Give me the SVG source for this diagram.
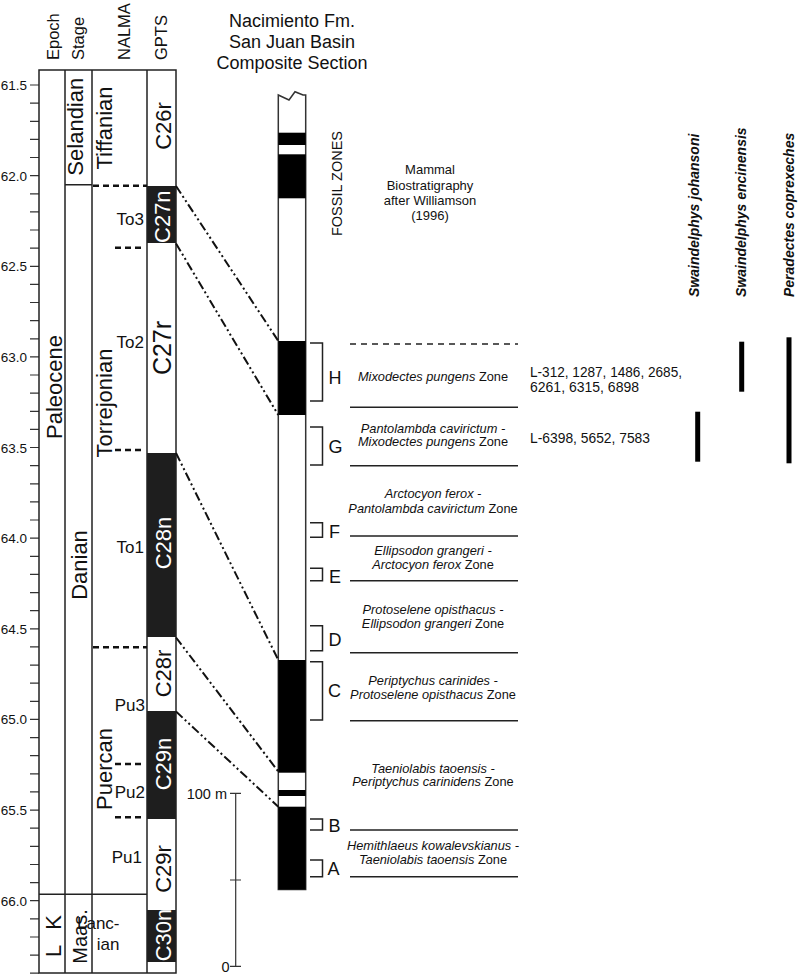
<svg xmlns="http://www.w3.org/2000/svg" width="800" height="976" viewBox="0 0 800 976">
<style>
text{font-family:"Liberation Sans",Arial,sans-serif;fill:#111}
.ax{font-size:13.5px;text-anchor:end}
.hd{font-size:16.5px}
.big{font-size:22px;text-anchor:middle}
.mid{text-anchor:middle}
.sub{font-size:17px;text-anchor:end}
.chron{font-size:22px;text-anchor:middle}
.wt{fill:#fff}
.zl{font-size:18px}
.zt{font-size:12.8px;text-anchor:middle}
.it{font-style:italic}
.loc{font-size:14.5px}
.sp{font-size:14px;font-weight:bold;font-style:italic}
.frame{fill:none;stroke:#222;stroke-width:1.5}
.thin{fill:none;stroke:#333;stroke-width:1.2}
.dash{fill:none;stroke:#111;stroke-width:2.5;stroke-dasharray:6 4}
.corr{fill:none;stroke:#111;stroke-width:2;stroke-dasharray:9 3 2 3 2 3}
.zline{fill:none;stroke:#222;stroke-width:1.5}
.br{fill:none;stroke:#222;stroke-width:1.5}
</style>
<rect width="800" height="976" fill="#fff"/>

<g id="axis">
<path class="thin" d="M30 85h9M30 103.1h9M30 121.3h9M30 139.4h9M30 157.5h9M30 175.6h9M30 193.8h9M30 211.9h9M30 230h9M30 248.1h9M30 266.3h9M30 284.4h9M30 302.5h9M30 320.7h9M30 338.8h9M30 356.9h9M30 375h9M30 393.2h9M30 411.3h9M30 429.4h9M30 447.5h9M30 465.7h9M30 483.8h9M30 501.9h9M30 520h9M30 538.2h9M30 556.3h9M30 574.4h9M30 592.6h9M30 610.7h9M30 628.8h9M30 646.9h9M30 665.1h9M30 683.2h9M30 701.3h9M30 719.4h9M30 737.6h9M30 755.7h9M30 773.8h9M30 791.9h9M30 810.1h9M30 828.2h9M30 846.3h9M30 864.5h9M30 882.6h9M30 900.7h9M30 918.8h9M30 937h9M30 955.1h9M30 973.2h9"/>
<text class="ax" x="27" y="90">61.5</text>
<text class="ax" x="27" y="180.6">62.0</text>
<text class="ax" x="27" y="271.3">62.5</text>
<text class="ax" x="27" y="361.9">63.0</text>
<text class="ax" x="27" y="452.5">63.5</text>
<text class="ax" x="27" y="543.2">64.0</text>
<text class="ax" x="27" y="633.8">64.5</text>
<text class="ax" x="27" y="724.4">65.0</text>
<text class="ax" x="27" y="815.1">65.5</text>
<text class="ax" x="27" y="905.7">66.0</text>
</g>

<g id="headers">
<text class="hd" x="58.5" y="60" transform="rotate(-90 58.5 60)">Epoch</text>
<text class="hd" x="84" y="60" transform="rotate(-90 84 60)">Stage</text>
<text class="hd" x="130" y="60" transform="rotate(-90 130 60)">NALMA</text>
<text class="hd" x="166.5" y="60" transform="rotate(-90 166.5 60)">GPTS</text>
</g>

<g id="gpts">
<rect x="147" y="186" width="29" height="57" fill="#1e1e1e"/>
<rect x="147" y="453" width="29" height="184" fill="#1e1e1e"/>
<rect x="147" y="711" width="29" height="108" fill="#1e1e1e"/>
<rect x="147" y="910" width="29" height="52" fill="#1e1e1e"/>
<text class="chron" x="170.5" y="126" transform="rotate(-90 170.5 126)">C26r</text>
<text class="chron wt" x="170.5" y="216.7" transform="rotate(-90 170.5 216.7)">C27n</text>
<text class="chron" x="171" y="348" transform="rotate(-90 171 348)" style="font-size:25px">C27r</text>
<text class="chron wt" x="170.5" y="543" transform="rotate(-90 170.5 543)">C28n</text>
<text class="chron" x="170.5" y="673.5" transform="rotate(-90 170.5 673.5)">C28r</text>
<text class="chron wt" x="170.5" y="764" transform="rotate(-90 170.5 764)">C29n</text>
<text class="chron" x="170.5" y="869" transform="rotate(-90 170.5 869)">C29r</text>
<text class="chron wt" x="170.5" y="935" transform="rotate(-90 170.5 935)">C30n</text>
</g>

<g id="columns">
<rect class="frame" x="39" y="70" width="137" height="903"/>
<path class="frame" d="M65 70V973M92 70V973M147 70V973M65 184.7H92M39 894.3H147"/>
<text class="big" x="61.5" y="387" transform="rotate(-90 61.5 387)">Paleocene</text>
<text class="big" x="83" y="126.7" transform="rotate(-90 83 126.7)">Selandian</text>
<text class="big" x="86.5" y="565" transform="rotate(-90 86.5 565)">Danian</text>
<text class="big" x="111.5" y="128" transform="rotate(-90 111.5 128)">Tiffanian</text>
<text class="big" x="111.5" y="403" transform="rotate(-90 111.5 403)">Torrejonian</text>
<text class="big" x="111.5" y="769" transform="rotate(-90 111.5 769)">Puercan</text>
<text class="big" x="61" y="936" transform="rotate(-90 61 936)" textLength="42">L K</text>
<text class="big" x="87" y="936.5" transform="rotate(-90 87 936.5)" style="font-size:20px">Maas.</text>
<text class="sub" x="144" y="225">To3</text>
<text class="sub" x="144" y="348">To2</text>
<text class="sub" x="144" y="553">To1</text>
<text class="sub" x="145" y="711">Pu3</text>
<text class="sub" x="145" y="798">Pu2</text>
<text class="sub" x="142" y="863">Pu1</text>
<text class="sub mid" x="119.5" y="929">Lanc-</text>
<text class="sub mid" x="119.5" y="950">ian</text>
<path class="dash" d="M93 185.7H147M115 247.7H145M115 450H145M93 647.3H147M115 764H145M115 817.3H145"/>
</g>

<g id="title">
<text class="mid" x="292" y="27" style="font-size:18px">Nacimiento Fm.</text>
<text class="mid" x="292" y="48" style="font-size:18px">San Juan Basin</text>
<text class="mid" x="292" y="69" style="font-size:18px">Composite Section</text>
</g>

<g id="section">
<path d="M278.3 95L289 100L295 91.7L303 95H305.7V889.5H278.3Z" fill="#fff" stroke="#333" stroke-width="1.5"/>
<rect x="278.3" y="132.7" width="27.4" height="12.3" fill="#000"/>
<rect x="278.3" y="154.3" width="27.4" height="44" fill="#000"/>
<rect x="278.3" y="341" width="27.4" height="74" fill="#000"/>
<rect x="278.3" y="660" width="27.4" height="112.7" fill="#000"/>
<rect x="278.3" y="790" width="27.4" height="6" fill="#000"/>
<rect x="278.3" y="806.7" width="27.4" height="82.8" fill="#000"/>
<text x="341.5" y="183.5" transform="rotate(-90 341.5 183.5)" class="mid" style="font-size:14.5px">FOSSIL ZONES</text>
</g>

<g id="note">
<text class="mid" x="430" y="174" style="font-size:13px">Mammal</text>
<text class="mid" x="430" y="189.5" style="font-size:13px">Biostratigraphy</text>
<text class="mid" x="430" y="204.5" style="font-size:13px">after Williamson</text>
<text class="mid" x="430" y="220" style="font-size:13px">(1996)</text>
</g>

<g id="connectors">
<path class="corr" d="M176 186L278.3 341"/>
<path class="corr" d="M176 243.5L278.3 415"/>
<path class="corr" d="M176 453L278.3 660"/>
<path class="corr" d="M176 637.5L278.3 771.5"/>
<path class="corr" d="M176 711.5L278.3 806.7"/>
</g>

<g id="zones">
<path class="br" d="M310 343H322.5V401H310M310 427H322.5V465H310M310 522.7H322.5V537.3H310M310 568.3H322.5V580.7H310M310 625.7H322.5V650.7H310M310 661.7H322.5V720H310M310 819H322.5V830H310M310 860H322.5V876.7H310"/>
<text class="zl" x="328.5" y="384">H</text>
<text class="zl" x="328.5" y="453">G</text>
<text class="zl" x="329" y="538">F</text>
<text class="zl" x="329" y="582.5">E</text>
<text class="zl" x="328.5" y="645.5">D</text>
<text class="zl" x="328" y="696.5">C</text>
<text class="zl" x="328.5" y="832">B</text>
<text class="zl" x="327.5" y="874.5">A</text>
<path class="zline" d="M350 344H518" stroke-dasharray="6 5"/>
<path class="zline" d="M350 407.3H518M350 465.7H518M350 536H518M350 580.7H518M350 652.7H518M350 720.7H518M350 830H518M350 876.7H518"/>
<text class="zt" x="433" y="381"><tspan class="it">Mixodectes pungens</tspan> Zone</text>
<text class="zt" x="433" y="432.5"><tspan class="it">Pantolambda cavirictum -</tspan></text>
<text class="zt" x="433" y="446"><tspan class="it">Mixodectes pungens</tspan> Zone</text>
<text class="zt" x="433" y="497.5"><tspan class="it">Arctocyon ferox -</tspan></text>
<text class="zt" x="433" y="512.5"><tspan class="it">Pantolambda cavirictum</tspan> Zone</text>
<text class="zt" x="433" y="555"><tspan class="it">Ellipsodon grangeri -</tspan></text>
<text class="zt" x="433" y="569"><tspan class="it">Arctocyon ferox</tspan> Zone</text>
<text class="zt" x="433" y="613.5"><tspan class="it">Protoselene opisthacus -</tspan></text>
<text class="zt" x="433" y="627.5"><tspan class="it">Ellipsodon grangeri</tspan> Zone</text>
<text class="zt" x="433" y="684.5"><tspan class="it">Periptychus carinides -</tspan></text>
<text class="zt" x="433" y="698.5"><tspan class="it">Protoselene opisthacus</tspan> Zone</text>
<text class="zt" x="433" y="772.5"><tspan class="it">Taeniolabis taoensis -</tspan></text>
<text class="zt" x="433" y="786"><tspan class="it">Periptychus carinidens</tspan> Zone</text>
<text class="zt" x="433" y="850"><tspan class="it">Hemithlaeus kowalevskianus -</tspan></text>
<text class="zt" x="433" y="864"><tspan class="it">Taeniolabis taoensis</tspan> Zone</text>
<text class="loc" x="530" y="377" textLength="152" lengthAdjust="spacingAndGlyphs">L-312, 1287, 1486, 2685,</text>
<text class="loc" x="530" y="392" textLength="109" lengthAdjust="spacingAndGlyphs">6261, 6315, 6898</text>
<text class="loc" x="530" y="443" textLength="120" lengthAdjust="spacingAndGlyphs">L-6398, 5652, 7583</text>
</g>

<g id="species">
<text class="sp" x="698.5" y="297" transform="rotate(-90 698.5 297)">Swaindelphys johansoni</text>
<text class="sp" x="746" y="297" transform="rotate(-90 746 297)">Swaindelphys encinensis</text>
<text class="sp" x="794" y="297" transform="rotate(-90 794 297)">Peradectes coprexeches</text>
<rect x="695.2" y="411.7" width="5" height="50" fill="#000"/>
<rect x="739.2" y="341.7" width="5" height="50" fill="#000"/>
<rect x="786.5" y="337.3" width="5" height="126" fill="#000"/>
</g>

<g id="scale">
<path class="thin" d="M235.7 793.3V966.3M230 793.3H241M230 880H241M230 966.3H241"/>
<text x="227" y="798.5" style="font-size:14.5px;text-anchor:end">100 m</text>
<text x="229.5" y="971.5" style="font-size:14.5px;text-anchor:end">0</text>
</g>
</svg>
